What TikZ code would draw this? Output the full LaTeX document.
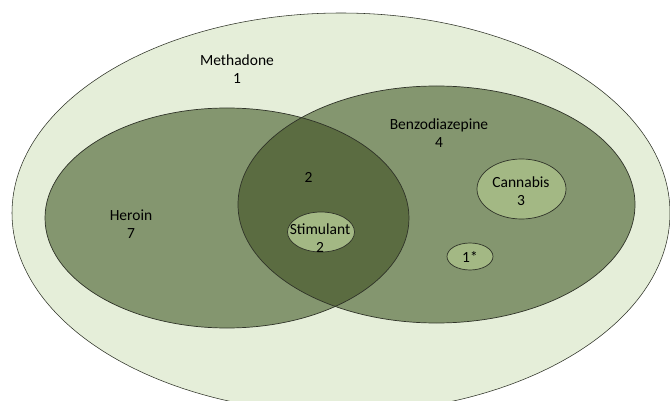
\documentclass[tikz,border=0pt]{standalone}
\usepackage{fontspec}
\setmainfont{Carlito}
\definecolor{outerfill}{HTML}{E5EED9}
\definecolor{setfill}{HTML}{84966F}
\definecolor{overlapfill}{HTML}{5B6C41}
\definecolor{smallfill}{HTML}{A3B884}
\definecolor{edge}{HTML}{2F3328}
\tikzset{
  setline/.style={draw=edge, line width=0.7pt},
  lbl/.style={align=center, font=\fontsize{15.5}{17.5}\selectfont, text=black, inner sep=0pt}
}
\begin{document}
\begin{tikzpicture}[x=1pt,y=-1pt]
\useasboundingbox (0,0) rectangle (670,401);
\fill[white] (0,0) rectangle (670,401);
\begin{scope}
\clip (0,0) rectangle (670,401);
% Methadone (outer)
\path[setline, line width=0.55pt, fill=outerfill] (341,213) ellipse [x radius=329, y radius=200];
% Heroin and Benzodiazepine
\path[fill=setfill] (227,218) ellipse [x radius=182, y radius=110];
\path[fill=setfill] (436.5,204.5) ellipse [x radius=198.5, y radius=118.5];
\begin{scope}
\clip (227,218) ellipse [x radius=182, y radius=110];
\path[fill=overlapfill] (436.5,204.5) ellipse [x radius=198.5, y radius=118.5];
\end{scope}
\path[setline] (227,218) ellipse [x radius=182, y radius=110];
\path[setline] (436.5,204.5) ellipse [x radius=198.5, y radius=118.5];
% small sets
\path[setline, fill=smallfill] (521.5,189) ellipse [x radius=44.5, y radius=30];
\path[setline, fill=smallfill] (470,256.5) ellipse [x radius=23, y radius=13.5];
\path[setline, fill=smallfill] (321,232) ellipse [x radius=33.5, y radius=20];
\end{scope}
% labels
\node[lbl] (methadone) at (237,69) {Methadone\\1};
\node[lbl] (benzo) at (439,133) {Benzodiazepine\\4};
\node[lbl] (both) at (308.5,177) {2};
\node[lbl] (heroin) at (131,224) {Heroin\\7};
\node[lbl] (cannabis) at (521,191) {Cannabis\\3};
\node[lbl] (stimulant) at (320,238) {Stimulant\\2};
\node[lbl] (one) at (470,256.5) {1*};
\end{tikzpicture}
\end{document}
